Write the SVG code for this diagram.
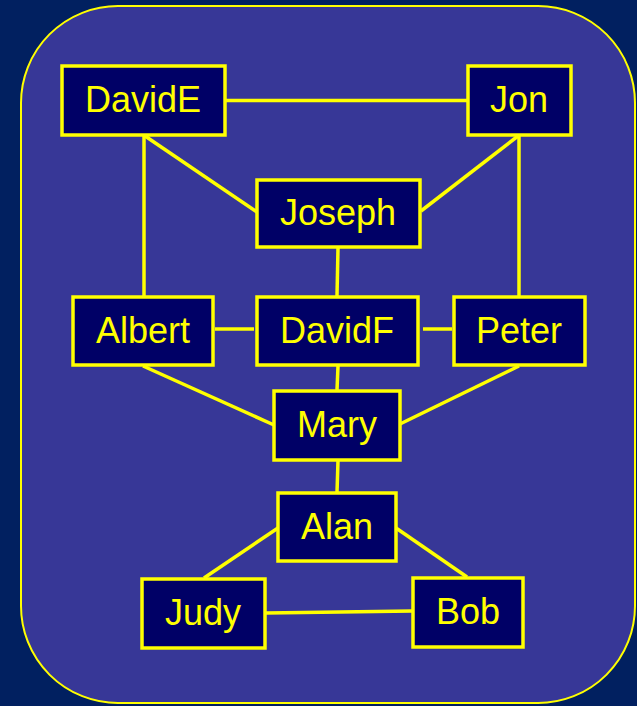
<svg xmlns="http://www.w3.org/2000/svg" width="637" height="706" viewBox="0 0 637 706">
<style>
.node rect{fill:#000066;stroke:#FFFF00;stroke-width:3.5}
.node text{font-family:"Liberation Sans",Arial,sans-serif;font-size:36px;fill:#FFFF00;text-anchor:middle}
#edges line,#edges polyline{stroke:#FFFF00;stroke-width:3.5;fill:none}
</style>
<rect x="0" y="0" width="637" height="706" fill="#012060"/>
<rect id="frame" x="21" y="6" width="614" height="697" rx="97" ry="97" fill="#373797" stroke="#FFFF00" stroke-width="2"/>
<g id="edges">
<line x1="226" y1="100.5" x2="467" y2="100.5"/>
<line x1="144" y1="136" x2="144" y2="296"/>
<line x1="145" y1="136" x2="257" y2="212"/>
<line x1="518" y1="136" x2="421" y2="211"/>
<line x1="519" y1="136" x2="519" y2="296"/>
<line x1="338" y1="248" x2="337" y2="296"/>
<line x1="215" y1="329" x2="254" y2="329"/>
<line x1="423" y1="329" x2="452" y2="329"/>
<line x1="143" y1="366" x2="274" y2="425"/>
<line x1="519" y1="366" x2="400" y2="424"/>
<line x1="338" y1="366" x2="337" y2="390"/>
<line x1="338" y1="461" x2="337" y2="492"/>
<line x1="278" y1="528" x2="204" y2="578"/>
<line x1="396" y1="528" x2="467" y2="577"/>
<polyline points="266,613 340,612 412,611"/>
</g>
<g id="DavidE" class="node"><rect x="62" y="66" width="163" height="69"/><text x="143" y="112">DavidE</text></g>
<g id="Jon" class="node"><rect x="468" y="66" width="103" height="69"/><text x="519" y="112">Jon</text></g>
<g id="Joseph" class="node"><rect x="257" y="180" width="163" height="67"/><text x="338" y="225">Joseph</text></g>
<g id="Albert" class="node"><rect x="73" y="297" width="140" height="68"/><text x="143" y="343">Albert</text></g>
<g id="DavidF" class="node"><rect x="257" y="297" width="161" height="68"/><text x="337" y="343">DavidF</text></g>
<g id="Peter" class="node"><rect x="454" y="297" width="131" height="68"/><text x="519" y="343">Peter</text></g>
<g id="Mary" class="node"><rect x="274" y="391" width="126" height="69"/><text x="337" y="437">Mary</text></g>
<g id="Alan" class="node"><rect x="278" y="493" width="118" height="68"/><text x="337" y="539">Alan</text></g>
<g id="Judy" class="node"><rect x="142" y="579" width="123" height="69"/><text x="203" y="625">Judy</text></g>
<g id="Bob" class="node"><rect x="413" y="578" width="110" height="69"/><text x="468" y="624">Bob</text></g>
</svg>
